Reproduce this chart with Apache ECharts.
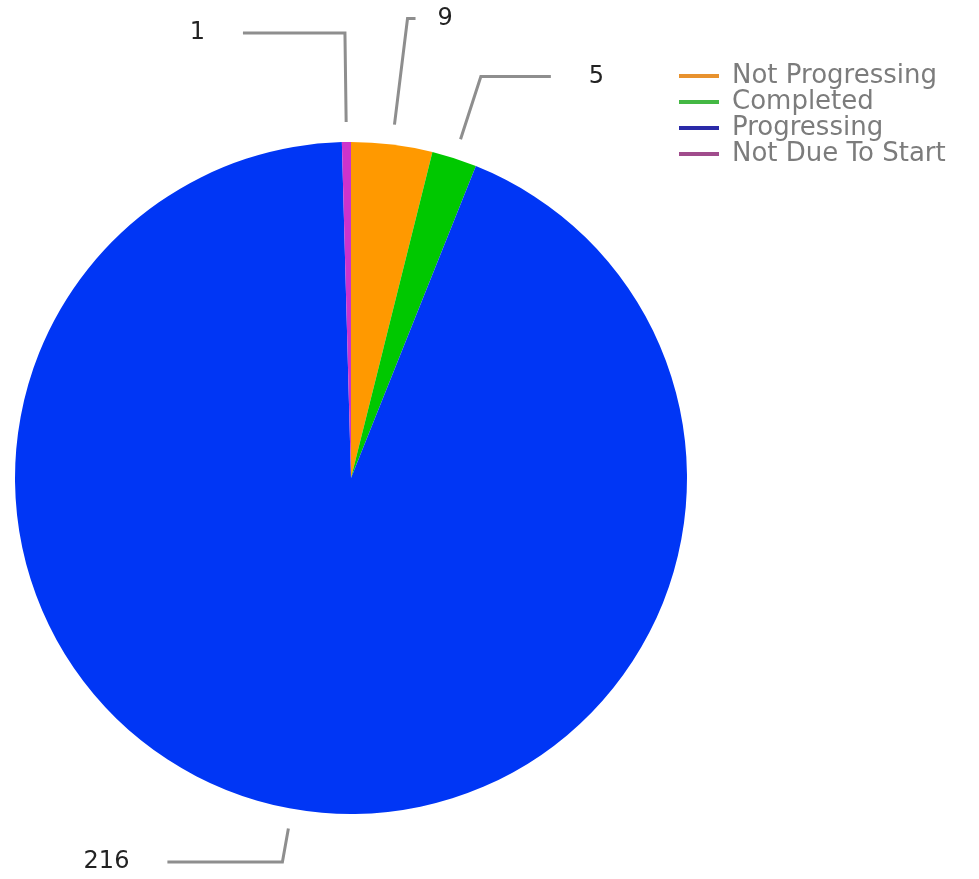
<!DOCTYPE html>
<html>
<head>
<meta charset="utf-8">
<title>Status pie</title>
<script src="https://cdn.jsdelivr.net/npm/echarts@6/dist/echarts.min.js"></script>
<style>
  html, body { margin: 0; padding: 0; background: #fff; }
  #chart { width: 979px; height: 879px; }
</style>
</head>
<body>
<div id="chart"></div>
<script>
// data
const categories = ["Not Progressing", "Completed", "Progressing", "Not Due To Start"];
const counts = [9, 5, 216, 1];

// styling, kept apart from the values
const sliceColors = ["#FF9900", "#00C800", "#0036F5", "#CC33CC"];
const legendColors = ["#E8922E", "#44B844", "#2A2AA8", "#A04C8C"];
const lineLengths = [   // [length, length2] of each label line
  [127, 8],
  [86, 70],
  [54, 115],
  [109, 102],
];
const labelGaps = [22, 38, 38, 38]; // text distance from the end of the line
const LINE_GAP = 20; // label lines start a bit away from the pie edge

const chart = echarts.init(document.getElementById("chart"));

const options = {
  animation: false,
  legend: {
    orient: "vertical",
    left: 674,
    top: 58,
    itemGap: 0,
    itemWidth: 40,
    itemHeight: 4,
    icon: "rect",
    data: categories.map((name, i) => ({
      name,
      itemStyle: { color: legendColors[i] },
    })),
    textStyle: {
      color: "#7c7c7c",
      fontFamily: "DejaVu Sans",
      fontSize: 26,
      lineHeight: 25,
      padding: [0, 0, 0, 8],
    },
  },
  series: [
    {
      type: "pie",
      center: [351, 478],
      radius: 336,
      startAngle: 90,
      clockwise: true,
      avoidLabelOverlap: false,
      label: {
        show: true,
        formatter: "{c}",
        color: "#222",
        fontFamily: "DejaVu Sans",
        fontSize: 24,
      },
      labelLine: {
        show: true,
        lineStyle: { color: "#8e8e8e", width: 3 },
      },
      // push the first point of each line out from the edge
      labelLayout: (params) => {
        const pts = params.labelLinePoints;
        if (!pts) return {};
        const dx = pts[1][0] - pts[0][0];
        const dy = pts[1][1] - pts[0][1];
        const d = Math.sqrt(dx * dx + dy * dy) || 1;
        const start = [pts[0][0] + (dx / d) * LINE_GAP, pts[0][1] + (dy / d) * LINE_GAP];
        return { labelLinePoints: [start, pts[1], pts[2]] };
      },
      data: categories.map((name, i) => ({
        name,
        value: counts[i],
        itemStyle: { color: sliceColors[i] },
        label: { distanceToLabelLine: labelGaps[i] },
        labelLine: { length: lineLengths[i][0], length2: lineLengths[i][1] },
      })),
    },
  ],
};

chart.setOption(options);
</script>
</body>
</html>
